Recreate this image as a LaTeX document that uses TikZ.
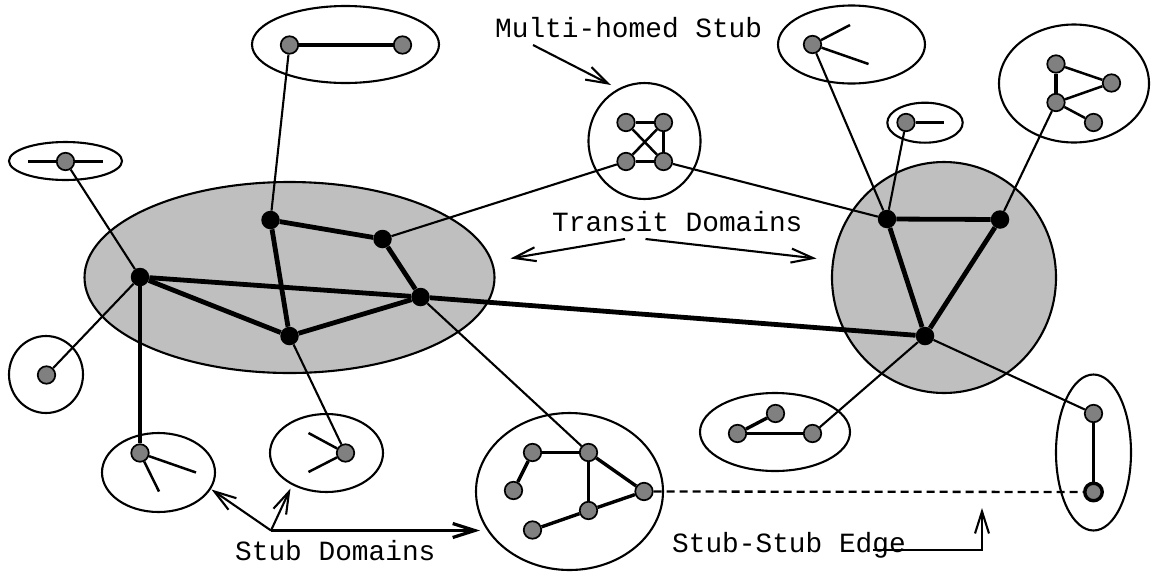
\documentclass[tikz,border=0pt]{standalone}
\usepackage{fontspec}
\setmonofont{Liberation Mono}
\usetikzlibrary{arrows.meta}
\definecolor{transitgrey}{gray}{0.75}
\definecolor{nodegrey}{gray}{0.5}
\pgfdeclarelayer{domains}
\pgfdeclarelayer{links}
\pgfsetlayers{domains,links,main}
\begin{document}
\begin{tikzpicture}[x=1pt,y=-1pt,
  dombox/.style={draw=black,line width=2.1pt},
  transitbox/.style={dombox,fill=transitgrey},
  gn/.style={circle,draw=black,line width=1.7pt,fill=nodegrey,minimum size=17.5pt,inner sep=0pt},
  bn/.style={circle,fill=black,minimum size=18.5pt,inner sep=0pt},
  thin link/.style={line width=2.1pt},
  spur/.style={line width=2.5pt},
  stub link/.style={line width=3.4pt},
  core link/.style={line width=4.8pt},
  lbl/.style={font=\fontsize{27.8}{30}\selectfont\ttfamily,inner sep=0pt,anchor=base west},
  pointer/.style={line width=2.1pt,-{Straight Barb[length=22pt,width=14pt]}}
]
\useasboundingbox (0,0) rectangle (1151,571);

% ---- transit domains and stub domains (outlines)
\begin{pgfonlayer}{domains}
  \draw[transitbox] (289.5,277.5) ellipse [x radius=205pt, y radius=95.5pt];
  \draw[transitbox] (944,277.5) ellipse [x radius=112pt, y radius=115.5pt];
  \draw[dombox] (345.5,44.5) ellipse [x radius=93.5pt, y radius=38.5pt];
  \draw[dombox] (65.5,161) ellipse [x radius=56.5pt, y radius=19pt];
  \draw[dombox] (46,374.5) ellipse [x radius=37pt, y radius=38.5pt];
  \draw[dombox] (158.5,472.5) ellipse [x radius=56.5pt, y radius=39.5pt];
  \draw[dombox] (326.5,453) ellipse [x radius=56.5pt, y radius=39pt];
  \draw[dombox] (569.5,491.5) ellipse [x radius=93.5pt, y radius=78.5pt];
  \draw[dombox] (775,432) ellipse [x radius=75pt, y radius=39pt];
  \draw[dombox] (1093.5,452.5) ellipse [x radius=37.5pt, y radius=78pt];
  \draw[dombox] (644.5,141) ellipse [x radius=56pt, y radius=58pt];
  \draw[dombox] (851.5,44.5) ellipse [x radius=73.5pt, y radius=39pt];
  \draw[dombox] (925,122.7) ellipse [x radius=37.7pt, y radius=20pt];
  \draw[dombox] (1074,83.5) ellipse [x radius=75pt, y radius=59pt];
\end{pgfonlayer}

% ---- transit routers
\node[bn] (tA) at (140,277) {};
\node[bn] (tB) at (270.5,220) {};
\node[bn] (tC) at (382.5,239) {};
\node[bn] (tD) at (420.5,297) {};
\node[bn] (tE) at (289.5,336) {};
\node[bn] (tF) at (887,219) {};
\node[bn] (tG) at (1000,219.5) {};
\node[bn] (tH) at (925,336) {};

% ---- stub routers
\node[gn] (sa1) at (289.5,45) {};
\node[gn] (sa2) at (402.5,45) {};
\node[gn] (sb) at (65.5,161.5) {};
\coordinate (cb1) at (28,161.5);
\coordinate (cb2) at (103,161.5);
\node[gn] (sc) at (46.5,375) {};
\node[gn] (sd) at (140,453) {};
\coordinate (cd1) at (196,472.5);
\coordinate (cd2) at (159,491.5);
\node[gn] (se) at (345.5,453) {};
\coordinate (ce1) at (308.5,433);
\coordinate (ce2) at (308.5,472);
\node[gn] (sf1) at (532.5,452.5) {};
\node[gn] (sf2) at (588.5,452.5) {};
\node[gn] (sf3) at (513.5,490.5) {};
\node[gn] (sf4) at (644,491.5) {};
\node[gn] (sf5) at (588.5,510.5) {};
\node[gn] (sf6) at (532.5,530) {};
\node[gn] (sg1) at (737.5,433.5) {};
\node[gn] (sg2) at (775.5,413.5) {};
\node[gn] (sg3) at (812.5,433.5) {};
\node[gn] (sh1) at (1093.5,413.5) {};
\node[gn,line width=3.4pt] (sh2) at (1093.5,492) {};
\node[gn] (m1) at (626,122.5) {};
\node[gn] (m2) at (663.5,122.5) {};
\node[gn] (m3) at (626,161.5) {};
\node[gn] (m4) at (663.5,161.5) {};
\node[gn] (si) at (812.5,44.5) {};
\coordinate (ci1) at (850,25);
\coordinate (ci2) at (868.5,64);
\node[gn] (sj) at (906,122.5) {};
\coordinate (cj) at (944,122.5);
\node[gn] (sk1) at (1056,64) {};
\node[gn] (sk2) at (1111.5,83) {};
\node[gn] (sk3) at (1056,102.5) {};
\node[gn] (sk4) at (1093.5,122.5) {};

% ---- links
\begin{pgfonlayer}{links}
  % transit-transit
  \draw[core link] (tA) -- (tD);
  \draw[core link] (tA) -- (tE);
  \draw[core link] (tE) -- (tD);
  \draw[core link] (tB) -- (tE);
  \draw[core link] (tB) -- (tC);
  \draw[core link] (tC) -- (tD);
  \draw[core link] (tD) -- (tH);
  \draw[core link] (tF) -- (tG);
  \draw[core link] (tF) -- (tH);
  \draw[core link] (tG) -- (tH);
  % transit-stub
  \draw[thin link] (sa1) -- (tB);
  \draw[thin link] (sb) -- (tA);
  \draw[thin link] (sc) -- (tA);
  \draw[line width=3.2pt] (sd) -- (tA);
  \draw[thin link] (se) -- (tE);
  \draw[thin link] (sf2) -- (tD);
  \draw[thin link] (sg3) -- (tH);
  \draw[thin link] (sh1) -- (tH);
  \draw[thin link] (m3) -- (tC);
  \draw[thin link] (m4) -- (tF);
  \draw[thin link] (si) -- (tF);
  \draw[thin link] (sj) -- (tF);
  \draw[thin link] (sk3) -- (tG);
  % stub-stub
  \draw[line width=2.3pt,dash pattern=on 8pt off 5pt] (sf4) -- (sh2);
  % inside the stubs
  \draw[stub link] (sa1) -- (sa2);
  \draw[stub link] (cb1) -- (cb2);
  \draw[spur] (sd) -- (cd1);
  \draw[spur] (sd) -- (cd2);
  \draw[spur] (se) -- (ce1);
  \draw[spur] (se) -- (ce2);
  \draw[stub link] (sf1) -- (sf2);
  \draw[stub link] (sf1) -- (sf3);
  \draw[stub link] (sf2) -- (sf4);
  \draw[stub link] (sf2) -- (sf5);
  \draw[stub link] (sf5) -- (sf4);
  \draw[stub link] (sf5) -- (sf6);
  \draw[stub link] (sg1) -- (sg3);
  \draw[stub link] (sg1) -- (sg2);
  \draw[stub link] (sh1) -- (sh2);
  \draw[stub link] (m1) -- (m2) -- (m4) -- (m3) -- cycle;
  \draw[spur] (m1) -- (m4);
  \draw[spur] (m2) -- (m3);
  \draw[spur] (si) -- (ci1);
  \draw[spur] (si) -- (ci2);
  \draw[stub link] (sj) -- (cj);
  \draw[stub link] (sk1) -- (sk3);
  \draw[spur] (sk1) -- (sk2);
  \draw[spur] (sk3) -- (sk2);
  \draw[spur] (sk3) -- (sk4);
\end{pgfonlayer}

% ---- labels and pointers
\node[lbl] (lmh) at (495,37) {Multi-homed Stub};
\coordinate (pmh0) at (533,45);
\coordinate (pmh1) at (611,85);
\draw[pointer] (pmh0) -- (pmh1);

\node[lbl] (ltd) at (552,231) {Transit Domains};
\coordinate (ptd0) at (625,239);
\coordinate (ptd1) at (510.5,258.5);
\coordinate (ptd2) at (645.5,239);
\coordinate (ptd3) at (816.5,258.5);
\draw[pointer] (ptd0) -- (ptd1);
\draw[pointer] (ptd2) -- (ptd3);

\node[lbl] (lsd) at (235,560) {Stub Domains};
\coordinate (psd0) at (271,530.5);
\coordinate (psd1) at (211.5,489.5);
\coordinate (psd2) at (290.5,488.5);
\coordinate (psd3) at (480,530.5);
\draw[pointer] (psd0) -- (psd1);
\draw[pointer] (psd0) -- (psd2);
\draw[pointer,line width=3.2pt] (psd0) -- (psd3);

\node[lbl] (lse) at (672,552) {Stub-Stub Edge};
\coordinate (pse0) at (873,550);
\coordinate (pse1) at (982,550);
\coordinate (pse2) at (982,508);
\draw[pointer] (pse0) -- (pse1) -- (pse2);
\end{tikzpicture}
\end{document}
